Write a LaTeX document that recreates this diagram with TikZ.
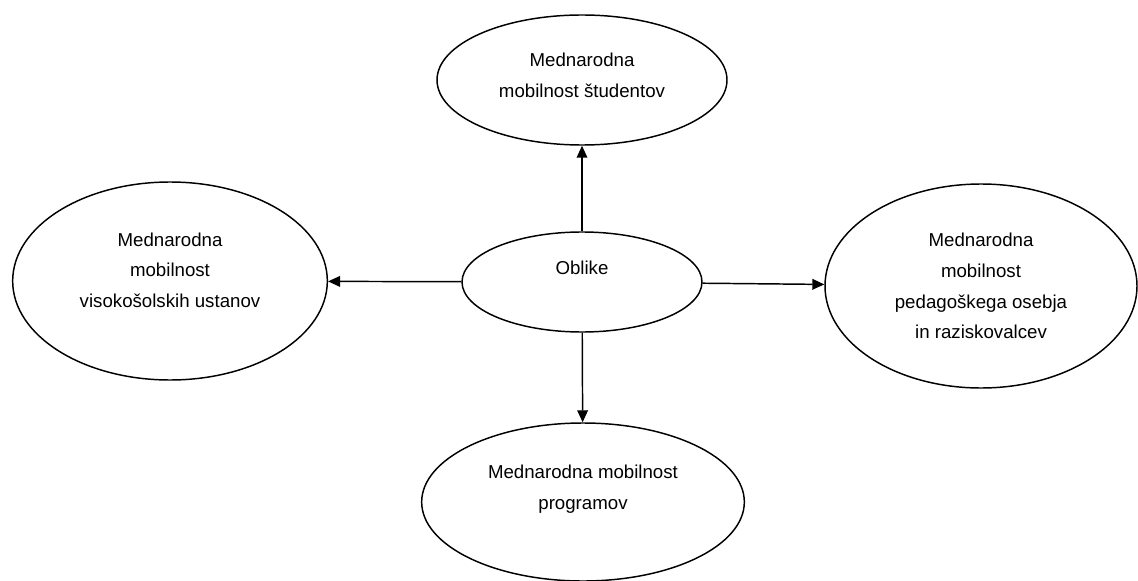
\documentclass[tikz,border=0pt]{standalone}
\usepackage{fontspec}
\setmainfont{Liberation Sans}
\usetikzlibrary{shapes.geometric,arrows.meta}

\begin{document}
\begin{tikzpicture}[x=0.75pt, y=-0.75pt,
		oblika/.style={draw, ellipse, line width=1.1pt, inner sep=0pt},
		napis/.style={align=center, inner sep=0pt, font=\fontsize{14}{23}\selectfont},
		puscica/.style={line width=1.1pt, -{Triangle[length=9pt, width=8pt]}}]
			%%%%% START %%%%%
			\useasboundingbox (0, 0) rectangle (1138, 581);
			
			\node[oblika, minimum width=180pt, minimum height=75pt] (oblike) at (582, 282) {};
			\node[napis] (oblike-t) at (582, 268) {Oblike};
			
			\node[oblika, minimum width=217.5pt, minimum height=97.5pt] (studenti) at (582, 80) {};
			\node[napis] (studenti-t) at (582, 75) {Mednarodna\\mobilnost študentov};
			
			\node[oblika, minimum width=236pt, minimum height=148.5pt] (ustanove) at (170, 281) {};
			\node[napis] (ustanove-t) at (170, 270) {Mednarodna\\mobilnost\\visokošolskih ustanov};
			
			\node[oblika, minimum width=234pt, minimum height=153pt] (osebje) at (981, 286) {};
			\node[napis] (osebje-t) at (981, 286) {Mednarodna\\mobilnost\\pedagoškega osebja\\in raziskovalcev};
			
			\node[oblika, minimum width=242pt, minimum height=118.5pt] (programi) at (583, 502) {};
			\node[napis] (programi-t) at (583, 489) {Mednarodna mobilnost\\programov};
			
			\draw[puscica] (oblike) -- (studenti);
			\draw[puscica] (oblike) -- (ustanove);
			\draw[puscica] (oblike) -- (osebje);
			\draw[puscica] (oblike) -- (programi);
			
			%%%%% END %%%%%
\end{tikzpicture}
\end{document}
